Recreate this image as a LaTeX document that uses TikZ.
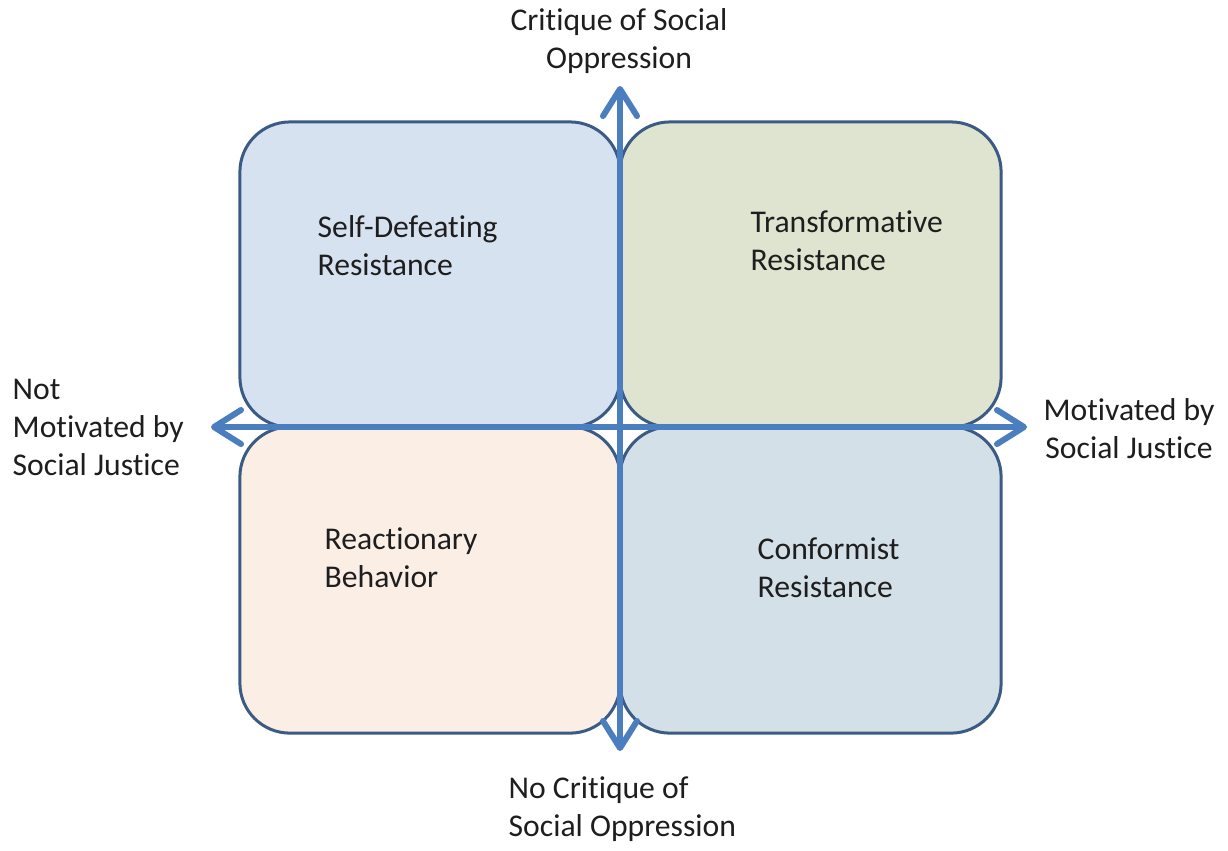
\documentclass[tikz,border=0pt]{standalone}
\usepackage{fontspec}
\setmainfont[Ligatures=NoCommon]{Carlito}
\usetikzlibrary{arrows.meta}
\definecolor{axisblue}{HTML}{4A7EBF}
\definecolor{edgeblue}{HTML}{3B5B85}
\definecolor{fillTL}{HTML}{D7E2F0}
\definecolor{fillTR}{HTML}{DFE4D0}
\definecolor{fillBL}{HTML}{FBEEE5}
\definecolor{fillBR}{HTML}{D3E0E8}
\definecolor{textgrey}{HTML}{1E1E1E}
\begin{document}
\begin{tikzpicture}[x=0.01cm,y=-0.01cm,
  quad/.style={draw=edgeblue,line width=0.3mm,rounded corners=5mm,
    minimum height=3.05cm,inner sep=0pt,outer sep=0pt},
  label/.style={inner sep=0pt,text=textgrey,
    font=\fontsize{9pt}{10.8pt}\selectfont},
  axis/.style={draw=axisblue,line width=0.6mm,
    {Straight Barb[round,length=2.7mm,width=3.4mm]}-{Straight Barb[round,length=2.7mm,width=3.4mm]}}
]
\useasboundingbox (0,0) rectangle (1228,850);

% quadrants
\node[quad,fill=fillTL,minimum width=3.80cm] (tl) at (430,274.5) {};
\node[quad,fill=fillTR,minimum width=3.81cm] (tr) at (810.5,274.5) {};
\node[quad,fill=fillBL,minimum width=3.80cm,minimum height=3.06cm] (bl) at (430,580) {};
\node[quad,fill=fillBR,minimum width=3.81cm,minimum height=3.06cm] (br) at (810.5,580) {};

% axis end points
\coordinate (top) at (620,86);
\coordinate (bottom) at (620,751);
\coordinate (left) at (211,427);
\coordinate (right) at (1027,427);

\draw[axis] (bottom) -- (top);
\draw[axis] (left) -- (right);

% quadrant labels
\node[label,anchor=west,align=left] (sd) at (317,246) {Self-Defeating\\Resistance};
\node[label,anchor=west,align=left] (tf) at (750,241) {Transformative\\Resistance};
\node[label,anchor=west,align=left] (rb) at (324,558) {Reactionary\\Behavior};
\node[label,anchor=west,align=left] (cf) at (757,568) {Conformist\\Resistance};

% axis labels
\node[label,align=center] (crit) at (619,41) {Critique of Social\\Oppression};
\node[label,anchor=west,align=left] (nocrit) at (508,809) {No Critique of\\Social Oppression};
\node[label,anchor=west,align=left] (notmot) at (12,427) {Not\\Motivated by\\Social Justice};
\node[label,align=center] (mot) at (1129,429) {Motivated by\\Social Justice};
\end{tikzpicture}
\end{document}
